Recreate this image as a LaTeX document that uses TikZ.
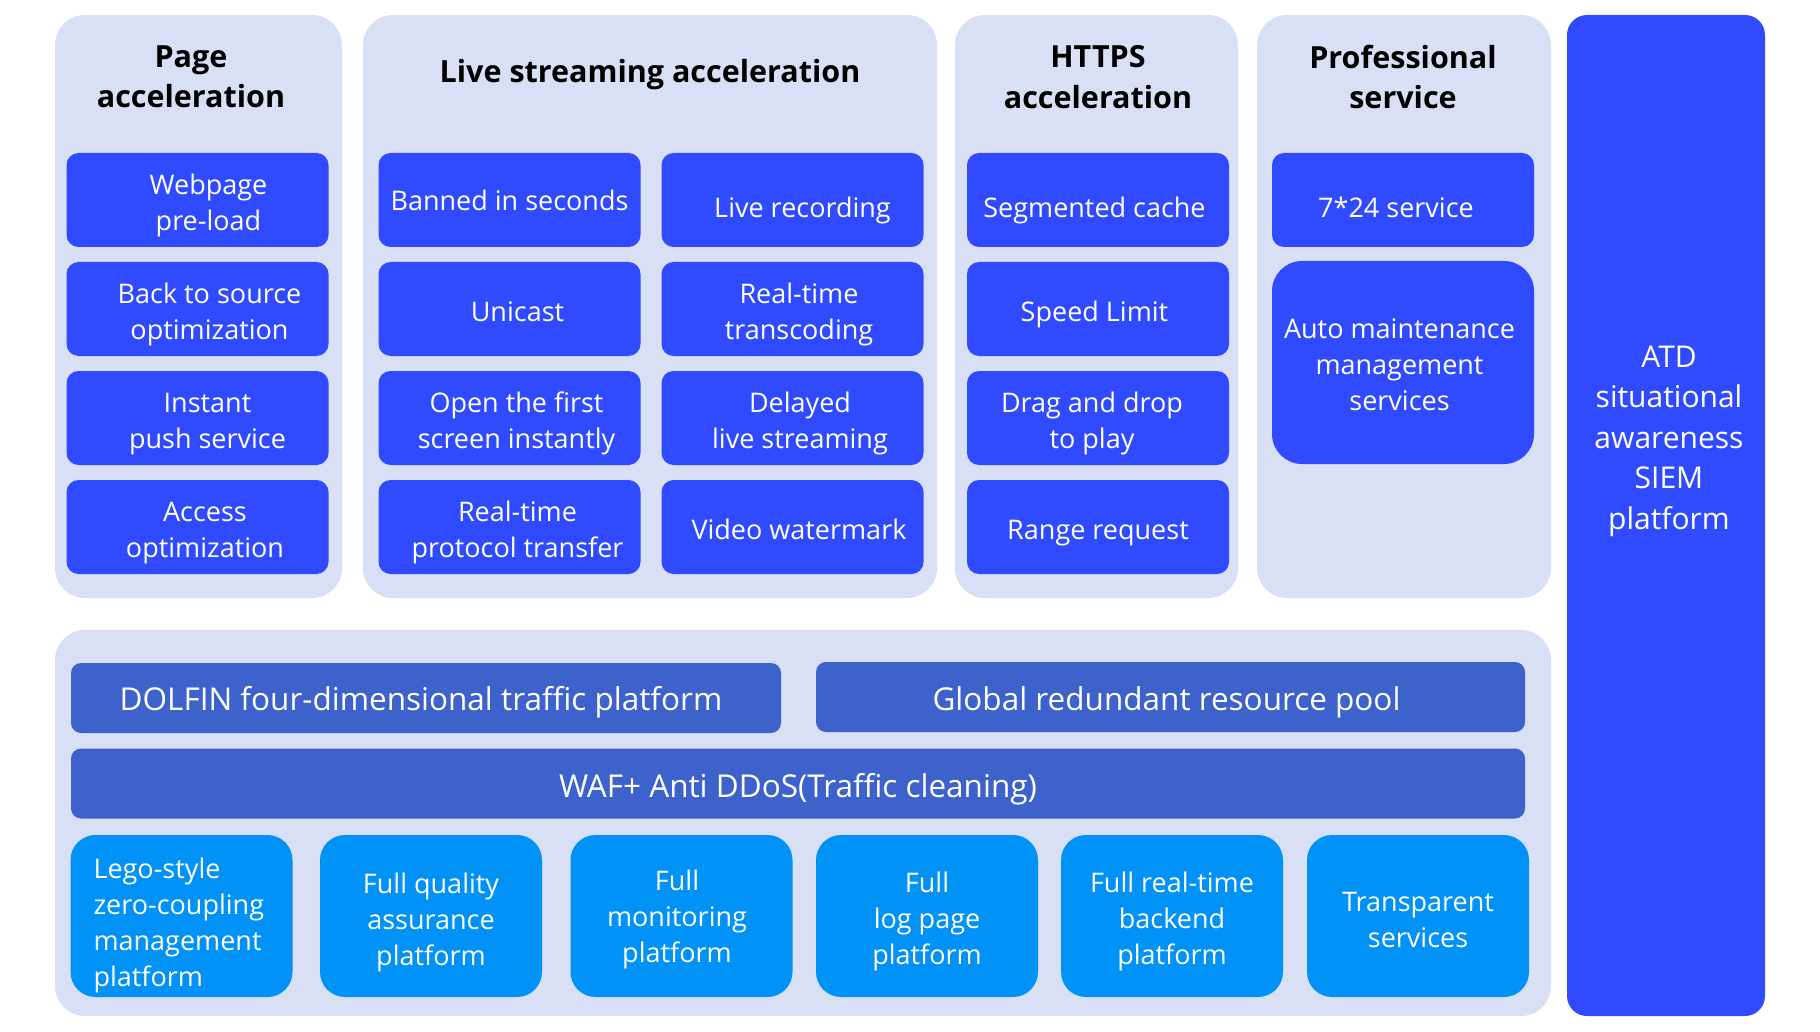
\documentclass[tikz,border=0pt]{standalone}
\usepackage{fontspec}
\setmainfont{Open Sans}
\definecolor{panelbg}{HTML}{D9DFF4}
\definecolor{itemblue}{HTML}{304BFF}
\definecolor{barblue}{HTML}{3D62CC}
\definecolor{skyblue}{HTML}{0092F7}
% centred lines, nudged sideways by half of #1 and dropped by #2
\NewDocumentCommand{\boxtext}{O{0pt}O{5pt}m}{%
	\raisebox{-#2}[\height][\depth]{\begin{tabular}{@{\hspace*{#1}}c@{}}#3\end{tabular}}}
\begin{document}
\begin{tikzpicture}[x=1pt,y=-1pt,
				panel/.style={fill=panelbg,rounded corners=30pt,inner sep=0pt},
				head/.style={font=\fontsize{30.5}{40.5}\selectfont\bfseries,align=center},
				item/.style={fill=itemblue,text=white,rounded corners=12pt,minimum width=262,minimum height=94,
					font=\fontsize{27}{36}\selectfont,inner sep=0pt},
				bar/.style={fill=barblue,text=white,rounded corners=10pt,minimum height=70,
					font=\fontsize{31.5}{40}\selectfont,inner sep=0pt},
				base/.style={fill=skyblue,text=white,rounded corners=25pt,minimum width=222,minimum height=162,
					font=\fontsize{27}{36}\selectfont,inner sep=0pt}]
\useasboundingbox (0,0) rectangle (1820,1032);
% panels
\node[panel,minimum width=287,minimum height=583] (pagepanel) at (198.5,306.5) {};
\node[panel,minimum width=574,minimum height=583] (livepanel) at (650,306.5) {};
\node[panel,minimum width=283,minimum height=583] (httpspanel) at (1096.5,306.5) {};
\node[panel,minimum width=294,minimum height=583] (propanel) at (1404,306.5) {};
\node[panel,minimum width=1496,minimum height=386] (basepanel) at (803,823) {};
\node[fill=itemblue,rounded corners=20pt,minimum width=198,minimum height=1001,inner sep=0pt] (atd) at (1666,515.5) {};
\node[text=white,align=center,font=\fontsize{30}{40.5}\selectfont] (atdtext) at (1669,441)
	{ATD\\situational\\awareness\\SIEM\\platform};
% headers
\node[head] (pagehead) at (191,77) {Page\\acceleration};
\node[head] (livehead) at (650,75) {Live streaming acceleration};
\node[head] (httpshead) at (1098,77) {HTTPS\\acceleration};
\node[head] (prohead) at (1403,77) {Professional\\service};
% page acceleration
\node[item] (preload) at (197.5,200) {\boxtext[22pt]{Webpage\\pre-load}};
\node[item] (backsrc) at (197.5,309) {\boxtext[24pt]{Back to source\\optimization}};
\node[item] (push) at (197.5,418) {\boxtext[20pt]{Instant\\push service}};
\node[item] (access) at (197.5,527) {\boxtext[15pt]{Access\\optimization}};
% live streaming
\node[item] (banned) at (509.5,200) {\boxtext[0pt][3pt]{Banned in seconds}};
\node[item] (unicast) at (509.5,309) {\boxtext[16pt]{Unicast}};
\node[item] (firstscreen) at (509.5,418) {\boxtext[14pt]{Open the first\\screen instantly}};
\node[item] (protocol) at (509.5,527) {\boxtext[16pt]{Real-time\\protocol transfer}};
\node[item] (recording) at (792.5,200) {\boxtext[20pt][10pt]{Live recording}};
\node[item] (transcode) at (792.5,309) {\boxtext[13pt]{Real-time\\transcoding}};
\node[item] (delayed) at (792.5,418) {\boxtext[15pt]{Delayed\\live streaming}};
\node[item] (watermark) at (792.5,527) {\boxtext[13pt]{Video watermark}};
% https
\node[item] (segcache) at (1098,200) {\boxtext[-7pt][10pt]{Segmented cache}};
\node[item] (speed) at (1098,309) {\boxtext[-7pt]{Speed Limit}};
\node[item] (dragdrop) at (1098,418) {\boxtext[-12pt]{Drag and drop\\to play}};
\node[item] (range) at (1098,527) {\boxtext{Range request}};
% professional
\node[item] (service) at (1403,200) {\boxtext[-14pt][10pt]{7*24 service}};
\node[item,minimum height=203,rounded corners=30pt] (automaint) at (1403,362.5)
	{\boxtext[-7pt]{Auto maintenance\\management\\services}};
% base layer
\node[bar,minimum width=710] (dolfin) at (426,698) {\boxtext[-10pt][4pt]{DOLFIN four-dimensional traffic platform}};
\node[bar,minimum width=709] (pool) at (1170.5,697) {\boxtext[-8pt][5pt]{Global redundant resource pool}};
\node[bar,minimum width=1454] (waf) at (798,783.5) {\boxtext[0pt][6pt]{WAF+ Anti DDoS(Traffic cleaning)}};
\node[base] (lego) at (181.5,916) {};
\node[text=white,align=left,font=\fontsize{27}{36}\selectfont,anchor=west] (legotext) at (90,925.5)
	{Lego-style\\zero-coupling\\management\\platform};
\node[base] (quality) at (431,916) {\boxtext[0pt][6pt]{Full quality\\assurance\\platform}};
\node[base] (monitor) at (681.5,916) {\boxtext[-9pt][3pt]{Full\\monitoring\\platform}};
\node[base] (logpage) at (927,916) {\boxtext[0pt][5pt]{Full\\log page\\platform}};
\node[base] (backend) at (1172,916) {\boxtext[0pt][5pt]{Full real-time\\backend\\platform}};
\node[base] (transparent) at (1418,916) {\boxtext[0pt][6pt]{Transparent\\services}};
\end{tikzpicture}
\end{document}
